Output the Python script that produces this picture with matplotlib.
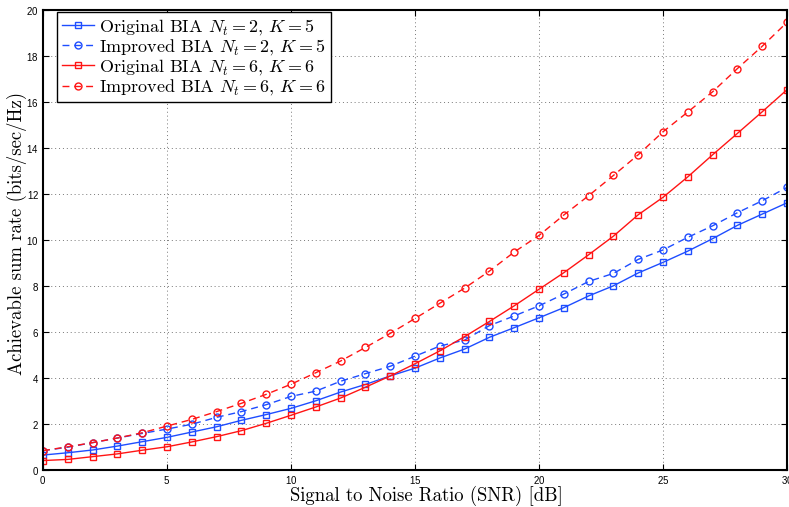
import numpy as np
import matplotlib
matplotlib.use("Agg")
from matplotlib import pyplot as plt

snr = np.arange(0, 31)

orig_2_5 = [0.65, 0.75, 0.87, 1.04, 1.23, 1.42, 1.65, 1.88, 2.16, 2.41, 2.68,
            3.01, 3.39, 3.72, 4.09, 4.43, 4.87, 5.26, 5.77, 6.19, 6.62,
            7.06, 7.57, 8.01, 8.57, 9.03, 9.52, 10.06, 10.64, 11.13, 11.62]
impr_2_5 = [0.84, 0.99, 1.19, 1.39, 1.59, 1.78, 1.99, 2.29, 2.54, 2.84, 3.20,
            3.43, 3.86, 4.19, 4.51, 4.95, 5.39, 5.65, 6.28, 6.70, 7.14,
            7.65, 8.20, 8.55, 9.16, 9.57, 10.12, 10.62, 11.19, 11.71, 12.29]
orig_6_6 = [0.41, 0.46, 0.58, 0.70, 0.86, 1.01, 1.22, 1.45, 1.71, 2.03, 2.38,
            2.74, 3.13, 3.60, 4.09, 4.62, 5.18, 5.80, 6.46, 7.14, 7.86,
            8.58, 9.36, 10.17, 11.10, 11.86, 12.75, 13.71, 14.64, 15.58, 16.54]
impr_6_6 = [0.84, 1.01, 1.19, 1.39, 1.62, 1.91, 2.20, 2.54, 2.90, 3.29, 3.73,
            4.23, 4.74, 5.33, 5.94, 6.59, 7.25, 7.91, 8.65, 9.48, 10.20,
            11.09, 11.93, 12.81, 13.71, 14.71, 15.57, 16.45, 17.46, 18.43, 19.47]

labels = [r"Original BIA $N_t=2$, $K=5$",
          r"Improved BIA $N_t=2$, $K=5$",
          r"Original BIA $N_t=6$, $K=6$",
          r"Improved BIA $N_t=6$, $K=6$"]

plt.rcParams["mathtext.fontset"] = "cm"
plt.rcParams["font.family"] = ["cmr10", "DejaVu Serif"]
plt.rcParams["axes.unicode_minus"] = False
plt.rcParams["axes.formatter.use_mathtext"] = True

blue = "#1e4dff"
red = "#ff1414"

fig = plt.figure(figsize=(7.89, 5.07), dpi=100)
ax = fig.add_axes([0.0545, 0.073, 0.943, 0.907])

mk = dict(markersize=5, markeredgewidth=1.0, fillstyle="none", linewidth=1.0)
ax.plot(snr, orig_2_5, "-s", color=blue, label=labels[0], **mk)
ax.plot(snr, impr_2_5, "--o", color=blue, label=labels[1], dashes=(5, 3.5), **mk)
ax.plot(snr, orig_6_6, "-s", color=red, label=labels[2], **mk)
ax.plot(snr, impr_6_6, "--o", color=red, label=labels[3], dashes=(5, 3.5), **mk)

ax.set_xlim(0, 30)
ax.set_ylim(0, 20)
ax.set_xticks(np.arange(0, 31, 5))
ax.set_yticks(np.arange(0, 21, 2))
ax.grid(True, linestyle=(0, (1, 3)), color="#777777", linewidth=0.7)
ax.tick_params(direction="in", top=True, right=True, length=4, width=0.8, pad=3)
for lab in ax.get_xticklabels() + ax.get_yticklabels():
    lab.set_fontfamily("Liberation Sans")
    lab.set_fontsize(7)
for sp in ax.spines.values():
    sp.set_linewidth(1.5)

ax.set_xlabel("Signal to Noise Ratio (SNR) [dB]", fontsize=13.5)
ax.set_ylabel("Achievable sum rate (bits/sec/Hz)", fontsize=13.5)
ax.xaxis.set_label_coords(0.516, -0.035)
ax.yaxis.set_label_coords(-0.0215, 0.514)

leg = ax.legend(loc="upper left", bbox_to_anchor=(0.0188, 0.9957), borderaxespad=0,
                fontsize=13, fancybox=False, framealpha=1, edgecolor="black",
                handlelength=1.8, handletextpad=0.3, labelspacing=0.02,
                borderpad=0.25, numpoints=1)
leg.get_frame().set_linewidth(1.0)

plt.savefig("out.png", dpi=100)
